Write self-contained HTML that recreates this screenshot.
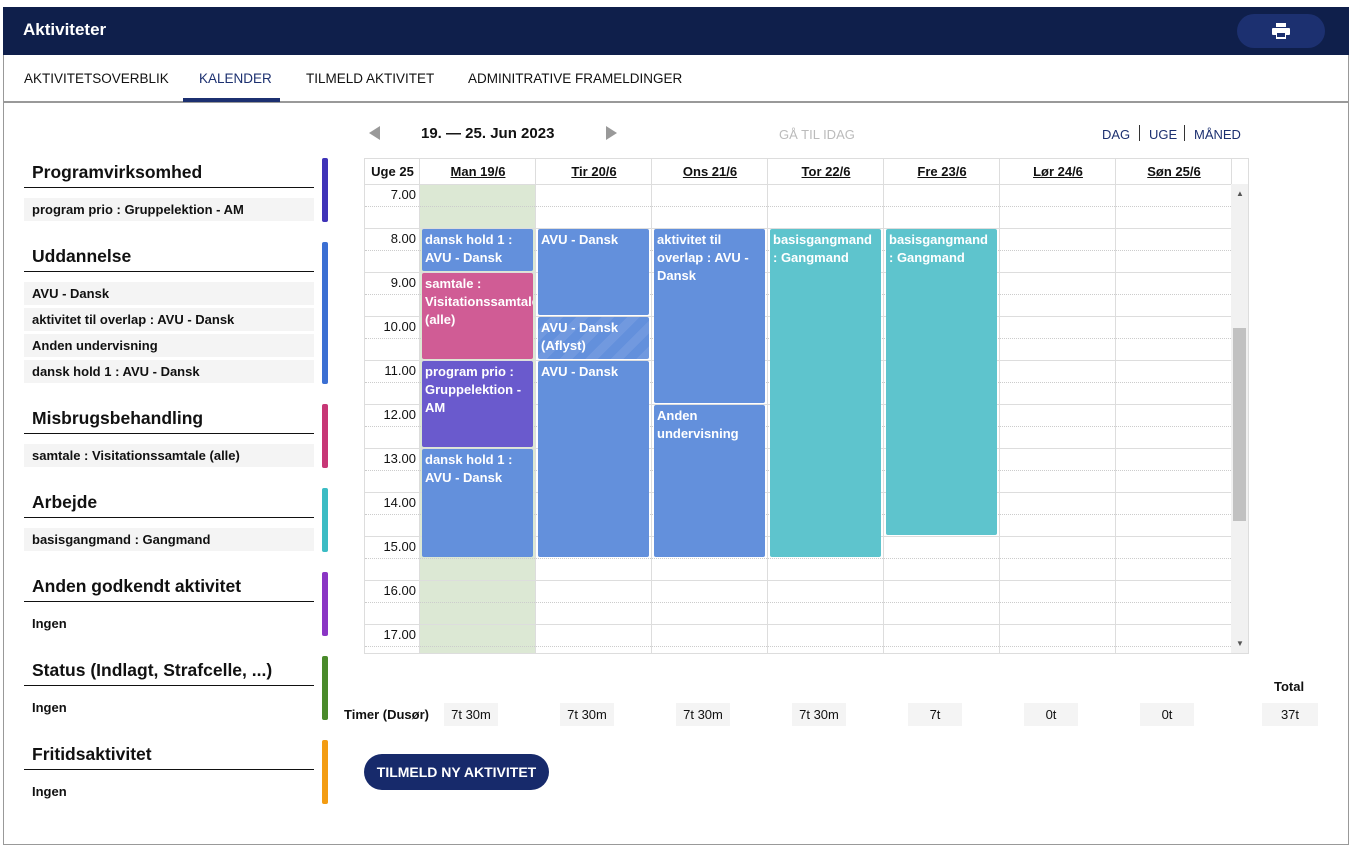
<!DOCTYPE html>
<html><head><meta charset="utf-8">
<style>
*{box-sizing:border-box;margin:0;padding:0}
body{width:1356px;height:853px;background:#fff;font-family:"Liberation Sans","DejaVu Sans",sans-serif;color:#111;position:relative;overflow:hidden}
.abs{position:absolute}
#frame{left:3px;top:7px;width:1346px;height:838px;border:1px solid #999}
#hdr{left:3px;top:7px;width:1346px;height:48px;background:#0f1f4b}
#hdr .t{left:20px;top:13px;color:#fff;font-weight:bold;font-size:17px}
#print{left:1237px;top:14px;width:88px;height:34px;border-radius:17px;background:#1c3070}
.tab{top:71px;font-size:13.5px;color:#111}
#tabline{left:4px;top:101px;width:1344px;height:2px;background:#999}
#active{left:183px;top:98px;width:97px;height:4px;background:#1c3070}
.sec-h{left:32px;font-size:17.5px;font-weight:bold;color:#111}
.sec-l{left:24px;width:290px;height:1px;background:#111}
.item{left:24px;width:290px;height:23px;background:#f4f4f4;font-size:13px;padding:4px 0 0 8px;font-weight:bold}
.ingen{left:32px;font-size:13px;font-weight:bold}
.bar{left:322px;width:6px;border-radius:2px}
.ev{position:absolute;color:#fff;font-size:13px;font-weight:bold;line-height:18px;padding:2px 3px;border-radius:2px;overflow:hidden;white-space:normal}
.tb{top:703px;height:23px;background:#f4f4f4;font-size:13px;text-align:center;padding-top:4px}
.vs{top:127px;font-size:13px;color:#1c3070}
.sep{top:125px;width:1px;height:16px;background:#333}
</style></head><body>
<div class="abs" id="frame"></div>
<div class="abs" id="hdr"><div class="abs t">Aktiviteter</div></div>
<div class="abs" id="print">
<svg class="abs" style="left:35px;top:9px" width="18" height="16" viewBox="0 0 18 16"><rect x="4" y="0" width="10" height="4" fill="#fff"/><rect x="0" y="5" width="18" height="7" rx="1" fill="#fff"/><rect x="4" y="9" width="10" height="7" fill="#fff"/><rect x="5" y="10" width="8" height="4" fill="#1c3070"/></svg></div>
<div class="abs tab" style="left:24px">AKTIVITETSOVERBLIK</div>
<div class="abs tab" style="left:199px;color:#1c3070">KALENDER</div>
<div class="abs tab" style="left:306px">TILMELD AKTIVITET</div>
<div class="abs tab" style="left:468px">ADMINITRATIVE FRAMELDINGER</div>
<div class="abs" id="tabline"></div>
<div class="abs" id="active"></div>

<div id="sidebar"></div>

<svg class="abs" style="left:369px;top:126px" width="12" height="14"><polygon points="11,0 11,14 0,7" fill="#999"/></svg>
<div class="abs" style="left:421px;top:125px;font-size:15px;font-weight:bold">19. — 25. Jun 2023</div>
<svg class="abs" style="left:606px;top:126px" width="12" height="14"><polygon points="0,0 0,14 11,7" fill="#999"/></svg>
<div class="abs" style="left:779px;top:127px;font-size:13px;color:#bbb">GÅ TIL IDAG</div>
<div class="abs vs" style="left:1102px">DAG</div>
<div class="abs sep" style="left:1139px"></div>
<div class="abs vs" style="left:1149px">UGE</div>
<div class="abs sep" style="left:1184px"></div>
<div class="abs vs" style="left:1194px">MÅNED</div>

<div class="abs" id="cal" style="left:364px;top:158px;width:885px;height:496px;border:1px solid #ddd"></div>

<div class="abs" style="left:1274px;top:679px;font-size:13px;font-weight:bold">Total</div>
<div class="abs" style="left:344px;top:707px;font-size:13px;font-weight:bold">Timer (Dusør)</div>
<div id="totals"></div>
<div class="abs" style="left:364px;top:754px;width:185px;height:36px;border-radius:18px;background:#172a6b;color:#fff;font-size:14px;font-weight:bold;text-align:center;padding-top:10px">TILMELD NY AKTIVITET</div>

<script>
const dayLabels=["Man 19/6","Tir 20/6","Ons 21/6","Tor 22/6","Fre 23/6","Lør 24/6","Søn 25/6"];
const hourLabels=["7.00","8.00","9.00","10.00","11.00","12.00","13.00","14.00","15.00","16.00","17.00"];
const evDays=[0,0,0,0,1,1,1,2,2,3,4];
const evStart=[8,9,11,13,8,10,11,8,12,8,8];
const evEnd=[9,11,13,15.5,10,11,15.5,12,15.5,15.5,15];
const evText=["dansk hold 1 : AVU - Dansk","samtale : Visitationssamtale (alle)","program prio : Gruppelektion - AM","dansk hold 1 : AVU - Dansk","AVU - Dansk","AVU - Dansk (Aflyst)","AVU - Dansk","aktivitet til overlap : AVU - Dansk","Anden undervisning","basisgangmand : Gangmand","basisgangmand : Gangmand"];
const evType=["blue","pink","purple","blue","blue","cancel","blue","blue","blue","teal","teal"];
const hoursTotals=["7t 30m","7t 30m","7t 30m","7t 30m","7t","0t","0t"];
const grandTotal="37t";
const sections=["Programvirksomhed","Uddannelse","Misbrugsbehandling","Arbejde","Anden godkendt aktivitet","Status (Indlagt, Strafcelle, ...)","Fritidsaktivitet"];
const sectionItems=[["program prio : Gruppelektion - AM"],["AVU - Dansk","aktivitet til overlap : AVU - Dansk","Anden undervisning","dansk hold 1 : AVU - Dansk"],["samtale : Visitationssamtale (alle)"],["basisgangmand : Gangmand"],[],[],[]];
const sectionColors=["#3f33b8","#3b6fd3","#c73776","#3bbcc4","#8a35c4","#4a8a2a","#f39c12"];

const colors={blue:"#6390dc",pink:"#d05c95",purple:"#6a5acd",teal:"#5ec4cd",cancel:"#6390dc"};
const cal=document.getElementById('cal');
const X0=55,CW=116,HT=25,HH=44,H0=7;
const xDay=d=>X0+d*CW;
const yH=h=>HT+(h-H0)*HH;
function mk(p,css){const e=document.createElement('div');e.style.cssText='position:absolute;'+css;p.appendChild(e);return e;}
let e=mk(cal,`left:${xDay(0)}px;top:${HT}px;width:${CW}px;height:${496-HT-2}px;background:#dce8d4`);


hourLabels.forEach((l,i)=>{
 const y=yH(H0+i);
 let ln=mk(cal,`left:0;top:${y}px;width:866px;height:1px;background:#ddd`);
 
 
 let hl=mk(cal,`left:0;top:${y+HH/2}px;width:866px;height:0;border-top:1px dotted #ccc`);
 
 
 let t=mk(cal,`left:0;top:${y+3}px;width:${X0-4}px;text-align:right;font-size:13px`);
 t.textContent=l;
 
 
});
let wk=mk(cal,`left:0;top:5px;width:${X0}px;text-align:center;font-size:13px;font-weight:bold`);
wk.textContent="Uge 25";


for(let d=0;d<=7;d++){
 let v=mk(cal,`left:${xDay(d)-1}px;top:0;width:1px;height:494px;background:#ddd`);
 
 
}
dayLabels.forEach((l,d)=>{
 let h=mk(cal,`left:${xDay(d)}px;top:5px;width:${CW}px;text-align:center;font-size:13px;font-weight:bold;text-decoration:underline`);
 h.textContent=l;
 
 
});
let sb=mk(cal,`left:866px;top:${HT}px;width:17px;height:469px;background:#f1f1f1`);


let th=mk(cal,`left:868px;top:169px;width:13px;height:193px;background:#c1c1c1`);


let ua=mk(cal,`left:871px;top:30px;font-size:8px;color:#555`);ua.textContent="▲";


let da=mk(cal,`left:871px;top:480px;font-size:8px;color:#555`);da.textContent="▼";


evText.forEach((txt,i)=>{
 const y1=yH(evStart[i])+1,y2=yH(evEnd[i])-1;
 let bg=colors[evType[i]];
 if(evType[i]==='cancel')bg=`repeating-linear-gradient(135deg,#6390dc 0 9px,#7199df 9px 18px)`;
 let ev=mk(cal,`left:${xDay(evDays[i])+2}px;top:${y1}px;width:${CW-5}px;height:${y2-y1}px;background:${bg}`);
 ev.className='ev';
 ev.textContent=txt;
 
 
});
const tot=document.getElementById('totals');
hoursTotals.forEach((t,d)=>{
 let b=mk(tot,`left:${364+X0+d*CW+25}px;width:54px`);
 b.className='abs tb';b.textContent=t;
 
 
});
let g=mk(tot,`left:1262px;width:56px`);g.className='abs tb';g.textContent=grandTotal;


const sbar=document.getElementById('sidebar');
const tops=[158,242,404,488,572,656,740];
sections.forEach((s,i)=>{
 const t=tops[i];const items=sectionItems[i];
 const n=Math.max(items.length,1);
 const h=64+(n-1)*26;
 let bar=mk(sbar,`top:${t}px;height:${h}px;background:${sectionColors[i]}`);bar.className='abs bar';
 
 
 let hd=mk(sbar,`top:${t+4}px`);hd.className='abs sec-h';hd.textContent=s;
 
 
 let ln=mk(sbar,`top:${t+29}px`);ln.className='abs sec-l';
 
 
 if(items.length===0){
  let ig=mk(sbar,`top:${t+44}px`);ig.className='abs ingen';ig.textContent="Ingen";
  
  
 }
 items.forEach((it,j)=>{
  let r=mk(sbar,`top:${t+40+j*26}px`);r.className='abs item';r.textContent=it;
  
  
 });
});
</script>
</body></html>
